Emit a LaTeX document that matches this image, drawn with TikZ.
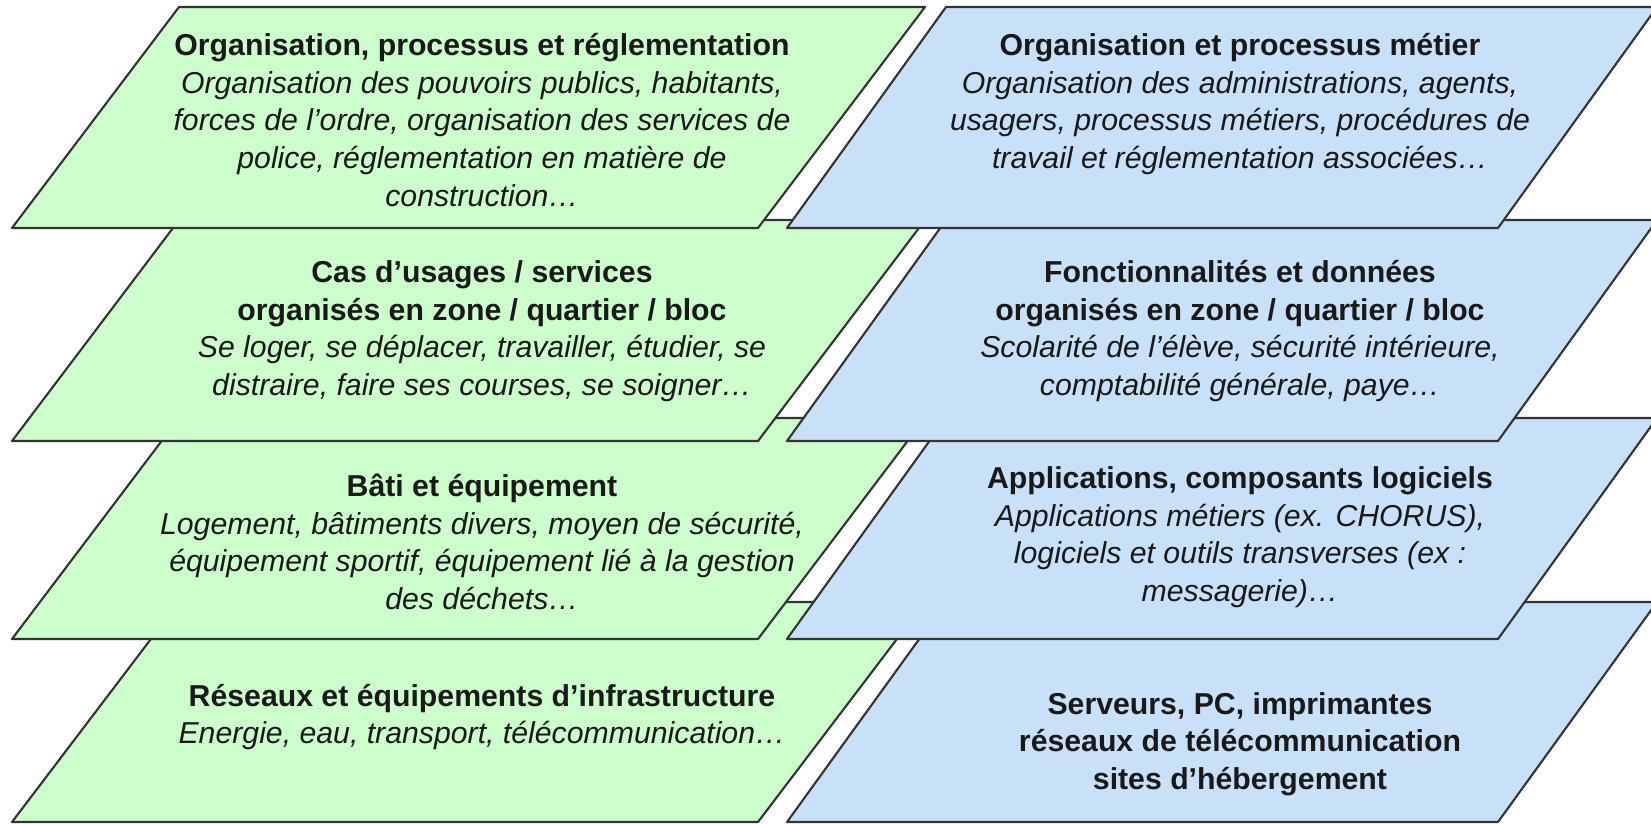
\documentclass[tikz,border=0pt]{standalone}
\usepackage{fontspec}
\setmainfont{Liberation Sans}
\usepackage{tikz}

\definecolor{vertclair}{RGB}{204,255,204}
\definecolor{bleuclair}{RGB}{200,224,248}

\begin{document}
\begin{tikzpicture}[x=0.01cm,y=-0.01cm,
	couchev/.style={draw=black!80,line width=0.6pt,fill=vertclair,line join=round},
	coucheb/.style={draw=black!80,line width=0.6pt,fill=bleuclair,line join=round},
	texte/.style={align=center,inner sep=0pt,text=black!90,font=\fontsize{8.6}{10.7}\selectfont}]
	\useasboundingbox (0,0) rectangle (1651,824);
	% couches vertes, de bas en haut
	\draw[couchev] (12,822) -- (758,822) -- (925,602) -- (179,602) -- cycle;
	\draw[couchev] (12,639) -- (758,639) -- (925,418) -- (179,418) -- cycle;
	\draw[couchev] (12,441) -- (758,441) -- (925,220) -- (179,220) -- cycle;
	\draw[couchev] (12,228) -- (758,228) -- (925,7) -- (179,7) -- cycle;
	% couches bleues
	\draw[coucheb] (787,822) -- (1498,822) -- (1657,602) -- (946,602) -- cycle;
	\draw[coucheb] (787,639) -- (1498,639) -- (1657,418) -- (946,418) -- cycle;
	\draw[coucheb] (787,441) -- (1498,441) -- (1657,220) -- (946,220) -- cycle;
	\draw[coucheb] (787,228) -- (1498,228) -- (1657,7) -- (946,7) -- cycle;
	% textes
	\node[texte] (org) at (482,120) {\textbf{Organisation, processus et réglementation}\\
		\textit{Organisation des pouvoirs publics, habitants,}\\
		\textit{forces de l’ordre, organisation des services de}\\
		\textit{police, réglementation en matière de}\\
		\textit{construction…}};
	\node[texte] (usages) at (482,331) {\textbf{Cas d’usages / services}\\
		\textbf{organisés en zone / quartier / bloc}\\
		\textit{Se loger, se déplacer, travailler, étudier, se}\\
		\textit{distraire, faire ses courses, se soigner…}};
	\node[texte] (bati) at (482,542) {\textbf{Bâti et équipement}\\
		\textit{Logement, bâtiments divers, moyen de sécurité,}\\
		\textit{équipement sportif, équipement lié à la gestion}\\
		\textit{des déchets…}};
	\node[texte] (reseaux) at (482,717) {\textbf{Réseaux et équipements d’infrastructure}\\
		\textit{Energie, eau, transport, télécommunication…}};
	\node[texte] (orgm) at (1240,104) {\textbf{Organisation et processus métier}\\
		\textit{Organisation des administrations, agents,}\\
		\textit{usagers, processus métiers, procédures de}\\
		\textit{travail et réglementation associées…}};
	\node[texte] (fonct) at (1240,331) {\textbf{Fonctionnalités et données}\\
		\textbf{organisés en zone / quartier / bloc}\\
		\textit{Scolarité de l’élève, sécurité intérieure,}\\
		\textit{comptabilité générale, paye…}};
	\node[texte] (appli) at (1240,537) {\textbf{Applications, composants logiciels}\\
		\textit{Applications métiers (ex. CHORUS),}\\
		\textit{logiciels et outils transverses (ex :}\\
		\textit{messagerie)…}};
	\node[texte] (serveurs) at (1240,744) {\textbf{Serveurs, PC, imprimantes}\\
		\textbf{réseaux de télécommunication}\\
		\textbf{sites d’hébergement}};
\end{tikzpicture}
\end{document}
